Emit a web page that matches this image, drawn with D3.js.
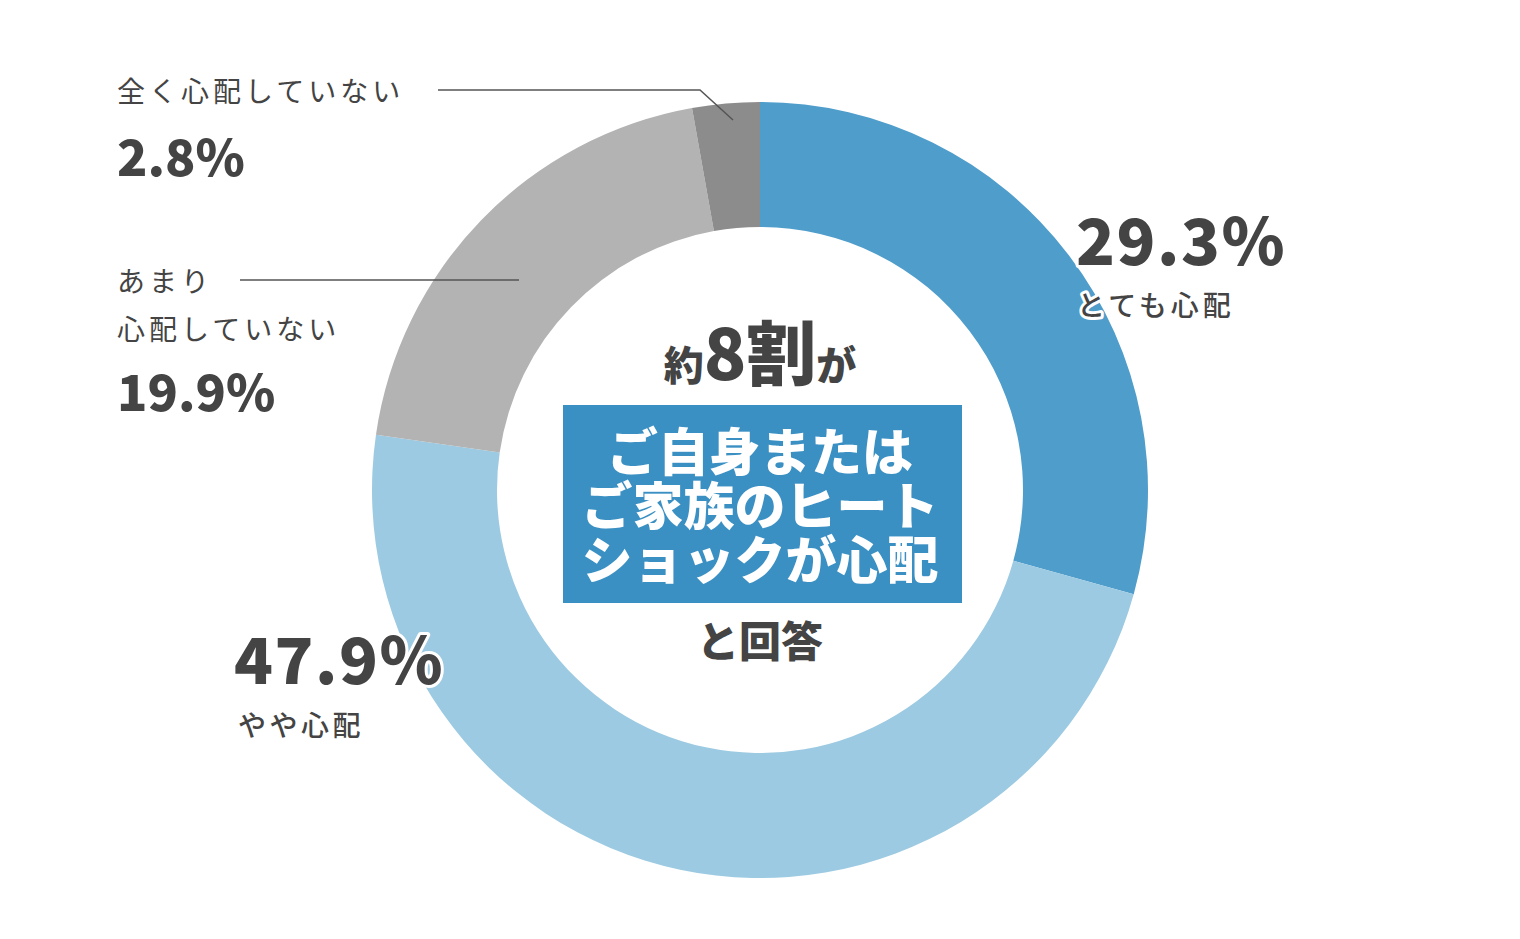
<!DOCTYPE html>
<html><head><meta charset="utf-8">
<script src="https://cdn.jsdelivr.net/npm/d3@7"></script>
<style>
body{margin:0;background:#fff;}
text{font-family:"Noto Sans CJK JP","Noto Sans",sans-serif;fill:#444;}
</style></head>
<body><svg id="chart" width="1520" height="939"></svg>
<script>
// answers, clockwise from 12 o'clock
var categories = ['とても心配', 'やや心配', 'あまり心配していない', '全く心配していない'];
var values = [29.3, 47.9, 19.9, 2.8];
var colors = ['#4f9dcb', '#9ccae2', '#b3b3b3', '#8c8c8c'];
var boxLines = ['ご自身または', 'ご家族のヒート', 'ショックが心配'];

var svg = d3.select('#chart');
var cx = 760, cy = 490;
var g = svg.append('g').attr('transform', 'translate(' + cx + ',' + cy + ')');

var pie = d3.pie().sort(null).value(function(d) { return d; });
var arc = d3.arc().innerRadius(263).outerRadius(388);
g.selectAll('path.slice')
    .data(pie(values))
    .enter().append('path')
    .attr('class', 'slice')
    .attr('d', arc)
    .attr('fill', function(d, i) { return colors[i]; });

// leader lines for the two small slices
svg.append('polyline').attr('points', '438,90 700,90 733,120')
    .attr('fill', 'none').attr('stroke', '#555').attr('stroke-width', 1.5);
svg.append('line').attr('x1', 240).attr('y1', 280).attr('x2', 519).attr('y2', 280)
    .attr('stroke', '#555').attr('stroke-width', 1.5);

var label = function(x, y, txt, size, weight, halo, spacing) {
    var t = svg.append('text').attr('x', x).attr('y', y).text(txt)
        .style('font-size', size + 'px').style('font-weight', weight)
        .style('letter-spacing', (spacing || 0) + 'px');
    if (halo) {
        t.style('stroke', '#fff').style('stroke-width', 6).style('paint-order', 'stroke')
         .style('stroke-linejoin', 'round');
    }
    return t;
};

label(1076, 265, values[0].toFixed(1) + '%', 64, 900, true, 1.5);
label(1077, 316, categories[0], 28, 500, true, 4);
label(234, 684, values[1].toFixed(1) + '%', 64, 900, true, 1.5);
label(238, 736, categories[1], 28, 500, true, 3.5);
label(117, 102, categories[3], 28, 400, false, 4);
label(117, 176, values[3].toFixed(1) + '%', 50, 900, false, 0);
label(117, 292, 'あまり', 28, 400, false, 4);
label(117, 340, '心配していない', 28, 400, false, 4);
label(117, 411, values[2].toFixed(1) + '%', 50, 900, false, 0);

// centre message
var head = svg.append('text').attr('x', cx).attr('y', 380).attr('text-anchor', 'middle')
    .style('font-weight', 900);
head.append('tspan').text('約').style('font-size', '40px');
head.append('tspan').text('8割').style('font-size', '70px');
head.append('tspan').text('が').style('font-size', '40px');

svg.append('rect').attr('x', 563).attr('y', 405).attr('width', 399).attr('height', 198)
    .attr('fill', '#3a8fc3');
svg.selectAll('text.box')
    .data(boxLines)
    .enter().append('text')
    .attr('class', 'box')
    .attr('x', cx).attr('y', function(d, i) { return 471 + i * 54; })
    .attr('text-anchor', 'middle')
    .style('fill', '#fff').style('font-size', '51px').style('font-weight', 900)
    .text(function(d) { return d; });

svg.append('text').attr('x', cx).attr('y', 657).attr('text-anchor', 'middle')
    .style('font-size', '42px').style('font-weight', 900).text('と回答');
</script></body></html>
